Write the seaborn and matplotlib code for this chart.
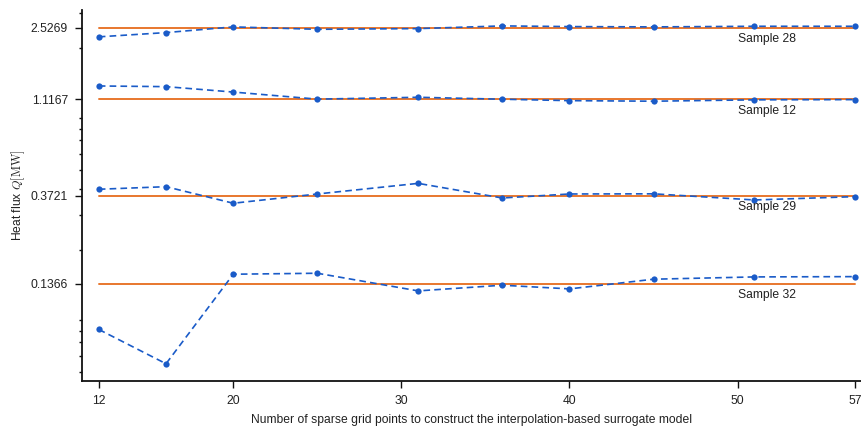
import numpy as np
import pandas as pd
import matplotlib
matplotlib.use("Agg")
import matplotlib.pyplot as plt
import seaborn as sns

# grid sizes on the x axis
n_points = [12, 16, 20, 25, 31, 36, 40, 45, 51, 57]

# reference heat flux of each sample (orange lines)
samples = ["Sample 28", "Sample 12", "Sample 29", "Sample 32"]
ref_flux = [2.5269, 1.1167, 0.3721, 0.1366]

# surrogate estimates (blue dashed lines)
flux_28 = [2.274, 2.387, 2.547, 2.478, 2.498, 2.576, 2.556, 2.547, 2.565, 2.565]
flux_12 = [1.299, 1.289, 1.212, 1.118, 1.142, 1.117, 1.099, 1.092, 1.109, 1.112]
flux_29 = [0.4003, 0.4122, 0.3413, 0.3793, 0.4281, 0.3624, 0.3793, 0.3800, 0.3543, 0.3680]
flux_32 = [0.0810, 0.0548, 0.1520, 0.1537, 0.1257, 0.1341, 0.1286, 0.1436, 0.1474, 0.1479]

series = [flux_28, flux_12, flux_29, flux_32]

sns.set_style("ticks")
plt.rcParams['font.family'] = ['Liberation Sans', 'DejaVu Sans']
plt.rcParams['mathtext.fontset'] = 'cm'
plt.rcParams['font.size'] = 8.7

blue = '#1a5bc8'
orange = '#e8772e'

fig = plt.figure(figsize=(8.62, 4.32), dpi=100)
ax = fig.add_axes([0.0951, 0.118, 0.9049, 0.859])

for name, ref, vals in zip(samples, ref_flux, series):
    df = pd.DataFrame({'n': n_points, 'flux': vals})
    ref_df = pd.DataFrame({'n': [n_points[0], n_points[-1]], 'flux': [ref, ref]})
    sns.lineplot(data=ref_df, x='n', y='flux', ax=ax, color=orange, lw=1.4, zorder=2)
    sns.lineplot(data=df, x='n', y='flux', ax=ax, color=blue, lw=1.2,
                 linestyle=(0, (4, 2.5)), dashes=False, marker='o', markersize=4.5,
                 markeredgewidth=0, zorder=3)
    ax.annotate(name, (50, ref), xytext=(0, -4), textcoords='offset points',
                ha='left', va='top', fontsize=8.7, color='#222222')

ax.set_yscale('log')
ax.set_yticks(ref_flux)
ax.set_yticklabels([f'{v:.4f}' for v in ref_flux])
ax.set_xticks([12, 20, 30, 40, 50, 57])
ax.set_xlim(11, 57.4)
ax.set_ylim(0.045, 3.09)

ax.tick_params(axis='both', which='major', length=5, width=1, pad=5, labelsize=8.7,
               color='#111111', labelcolor='#222222')
ax.tick_params(axis='y', which='minor', length=2.5, width=1, color='#111111')
for s in ['left', 'bottom']:
    ax.spines[s].set_linewidth(1.3)
    ax.spines[s].set_color('#111111')
sns.despine(ax=ax)

ax.set_xlabel('Number of sparse grid points to construct the interpolation-based surrogate model',
              fontsize=8.7, labelpad=5, color='#222222')
ax.set_ylabel(r'Heat flux $Q[\mathrm{MW}]$', fontsize=8.7, labelpad=3, color='#222222')

fig.savefig('out.png', dpi=100)
